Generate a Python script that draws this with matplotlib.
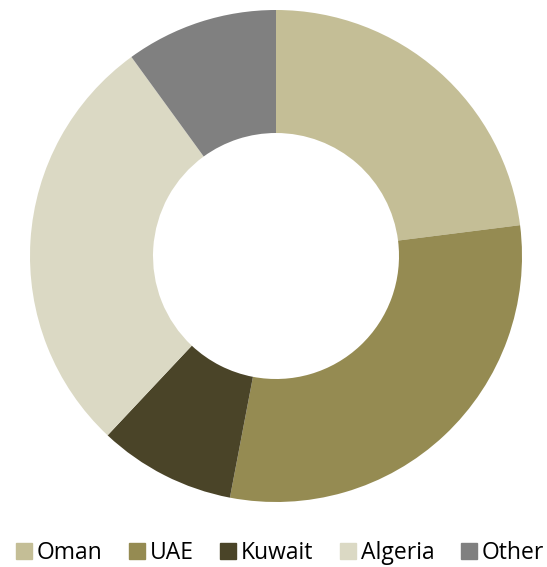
import matplotlib.pyplot as plt
from matplotlib.lines import Line2D

labels = ['Oman', 'UAE', 'Kuwait', 'Algeria', 'Other']
values = [23, 30, 9, 28, 10]
colors = ['#C4BE96', '#958B52', '#4A4428', '#DBD9C4', '#808080']

W, H = 547, 567
fig = plt.figure(figsize=(W / 100, H / 100), dpi=100)

# donut centred at about (276, 256) px, outer radius ~246 px
cx, cy, r = 276, 256, 246
ax = fig.add_axes([(cx - r) / W, (H - cy - r) / H, 2 * r / W, 2 * r / H])
ax.pie(values, colors=colors, startangle=90, counterclock=False, radius=1.0,
       wedgeprops=dict(width=0.5, edgecolor='white', linewidth=0))
ax.set_xlim(-1, 1)
ax.set_ylim(-1, 1)
ax.set_aspect('equal')
ax.axis('off')

handles = [Line2D([], [], marker='s', linestyle='none', markersize=11,
                  markerfacecolor=c, markeredgecolor=c) for c in colors]
fig.legend(handles, labels, loc='center', bbox_to_anchor=(0.514, 1 - 553 / H),
           ncol=5, frameon=False, handlelength=0.5, handletextpad=0.3,
           columnspacing=1.27, prop={'family': 'Open Sans', 'size': 16.5})

fig.savefig('out.png', dpi=100)
